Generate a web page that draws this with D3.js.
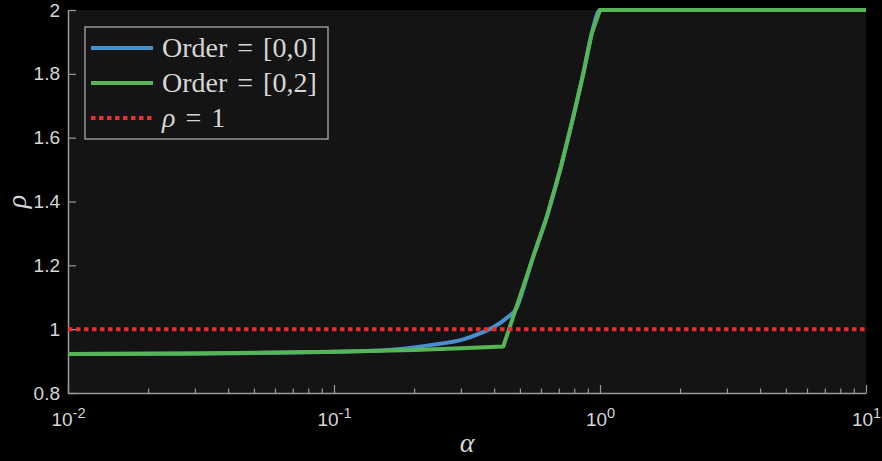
<!DOCTYPE html>
<html>
<head>
<meta charset="utf-8">
<script src="https://cdn.jsdelivr.net/npm/d3@7"></script>
<style>
  html, body { margin: 0; padding: 0; background: #000; }
  svg { display: block; }
</style>
</head>
<body>
<div id="chart"></div>
<script>
// values
const alphaBlue = [0.01, 0.03, 0.1, 0.149, 0.23, 0.306, 0.354, 0.397, 0.446, 0.486, 0.523, 0.561, 0.631, 0.708, 0.794, 0.866, 0.931, 1, 10];
const rhoBlue   = [0.922, 0.924, 0.929, 0.933, 0.950, 0.968, 0.987, 1.006, 1.035, 1.067, 1.145, 1.227, 1.352, 1.499, 1.666, 1.802, 1.927, 2, 2];
const alphaGreen = [0.01, 0.03, 0.1, 0.2, 0.3, 0.433, 0.5, 0.561, 0.631, 0.708, 0.794, 0.866, 0.931, 1, 10];
const rhoGreen   = [0.922, 0.924, 0.929, 0.935, 0.940, 0.946, 1.102, 1.227, 1.352, 1.499, 1.666, 1.802, 1.927, 2, 2];
const refRho = 1;

const xMajor = [0.01, 0.1, 1, 10];
const xExp = ["-2", "-1", "0", "1"];
const yTicks = [0.8, 1, 1.2, 1.4, 1.6, 1.8, 2];
const legendLabels = ["Order = [0,0]", "Order = [0,2]", "ρ = 1"];

const width = 882,
  height = 461,
  margin = { top: 10, right: 16, bottom: 68, left: 68 };

const svg = d3.select("#chart")
  .append("svg")
  .attr("width", width)
  .attr("height", height)
  .style("background", "#000");

const x = d3.scaleLog()
  .domain([0.01, 10])
  .range([margin.left, width - margin.right]);

const y = d3.scaleLinear()
  .domain([0.8, 2])
  .range([height - margin.bottom, margin.top]);

// plot area
svg.append("rect")
  .attr("x", margin.left)
  .attr("y", margin.top)
  .attr("width", width - margin.left - margin.right)
  .attr("height", height - margin.top - margin.bottom)
  .attr("fill", "#141414");

// minor ticks on x
const xMinor = [];
[0.01, 0.1, 1].forEach(d => { for (let k = 2; k <= 9; k++) xMinor.push(d * k); });

svg.append("g")
  .attr("transform", `translate(0,${height - margin.bottom})`)
  .call(d3.axisBottom(x).tickValues(xMinor).tickSizeInner(-4.5).tickSizeOuter(0).tickFormat(""))
  .call(g => g.select(".domain").remove())
  .call(g => g.selectAll("line").attr("stroke", "#9a9a9a").attr("stroke-width", 1.2));

const xAxis = svg.append("g")
  .attr("transform", `translate(0,${height - margin.bottom})`)
  .call(d3.axisBottom(x).tickValues(xMajor).tickSizeInner(-8).tickSizeOuter(0).tickPadding(16).tickFormat(""));

xAxis.select(".domain").attr("stroke", "#9a9a9a").attr("stroke-width", 1.5);
xAxis.selectAll("line").attr("stroke", "#9a9a9a").attr("stroke-width", 1.2);
xAxis.selectAll(".tick text").each(function(d, i) {
  const t = d3.select(this)
    .attr("fill", "#d6d6d6")
    .attr("font-family", "'Liberation Sans', Arial, sans-serif")
    .attr("font-size", 19)
    .attr("dy", "0.9em")
    .text("10");
  t.append("tspan")
    .attr("dy", "-0.55em")
    .attr("font-size", 14.5)
    .text(xExp[i]);
});

const yAxis = svg.append("g")
  .attr("transform", `translate(${margin.left},0)`)
  .call(d3.axisLeft(y).tickValues(yTicks).tickSizeInner(-8).tickSizeOuter(0).tickPadding(8).tickFormat(d3.format("")));

yAxis.select(".domain").attr("stroke", "#9a9a9a").attr("stroke-width", 1.5);
yAxis.selectAll("line").attr("stroke", "#9a9a9a").attr("stroke-width", 1.2);
yAxis.selectAll(".tick text")
  .attr("fill", "#d6d6d6")
  .attr("font-family", "'Liberation Sans', Arial, sans-serif")
  .attr("font-size", 19);

// axis labels
svg.append("text")
  .attr("x", (margin.left + width - margin.right) / 2)
  .attr("y", 452)
  .attr("text-anchor", "middle")
  .attr("fill", "#d6d6d6")
  .attr("font-family", "'Liberation Serif', 'Times New Roman', serif")
  .attr("font-style", "italic")
  .attr("font-size", 28)
  .text("α");

svg.append("text")
  .attr("transform", `translate(26,${(margin.top + height - margin.bottom) / 2}) rotate(-90)`)
  .attr("text-anchor", "middle")
  .attr("fill", "#d6d6d6")
  .attr("font-family", "'Liberation Serif', 'Times New Roman', serif")
  .attr("font-style", "italic")
  .attr("font-size", 28)
  .text("ρ");

// lines
const line = d3.line()
  .x(d => x(d[0]))
  .y(d => y(d[1]));

svg.append("path")
  .datum(alphaBlue.map((a, i) => [a, rhoBlue[i]]))
  .attr("d", line.curve(d3.curveMonotoneX))
  .attr("fill", "none")
  .attr("stroke", "#4a8fcd")
  .attr("stroke-width", 4)
  .attr("stroke-linejoin", "round");

svg.append("path")
  .datum(alphaGreen.map((a, i) => [a, rhoGreen[i]]))
  .attr("d", line.curve(d3.curveLinear))
  .attr("fill", "none")
  .attr("stroke", "#56b655")
  .attr("stroke-width", 4)
  .attr("stroke-linejoin", "round");

svg.append("line")
  .attr("x1", x(0.01))
  .attr("x2", x(10))
  .attr("y1", y(refRho))
  .attr("y2", y(refRho))
  .attr("stroke", "#e8302e")
  .attr("stroke-width", 4)
  .attr("stroke-dasharray", "4.5,3.5");

// legend
const legend = svg.append("g");
legend.append("rect")
  .attr("x", 85)
  .attr("y", 27)
  .attr("width", 243)
  .attr("height", 112)
  .attr("fill", "#141414")
  .attr("stroke", "#a8a8a8")
  .attr("stroke-width", 1.3);

const legColors = ["#4a8fcd", "#56b655", "#e8302e"];
legendLabels.forEach((lab, i) => {
  const cy = 48 + i * 35;
  legend.append("line")
    .attr("x1", 91).attr("x2", 153)
    .attr("y1", cy).attr("y2", cy)
    .attr("stroke", legColors[i])
    .attr("stroke-width", 4)
    .attr("stroke-dasharray", i === 2 ? "4.5,3.5" : null);
  const t = legend.append("text")
    .attr("x", 162)
    .attr("y", cy + 9)
    .attr("fill", "#d6d6d6")
    .attr("font-family", "'Liberation Serif', 'Times New Roman', serif")
    .attr("font-size", 28)
    .attr("word-spacing", 3);
  if (i === 2) {
    t.append("tspan").attr("font-style", "italic").text("ρ");
    t.append("tspan").text(" = 1");
  } else {
    t.text(lab);
  }
});
</script>
</body>
</html>
